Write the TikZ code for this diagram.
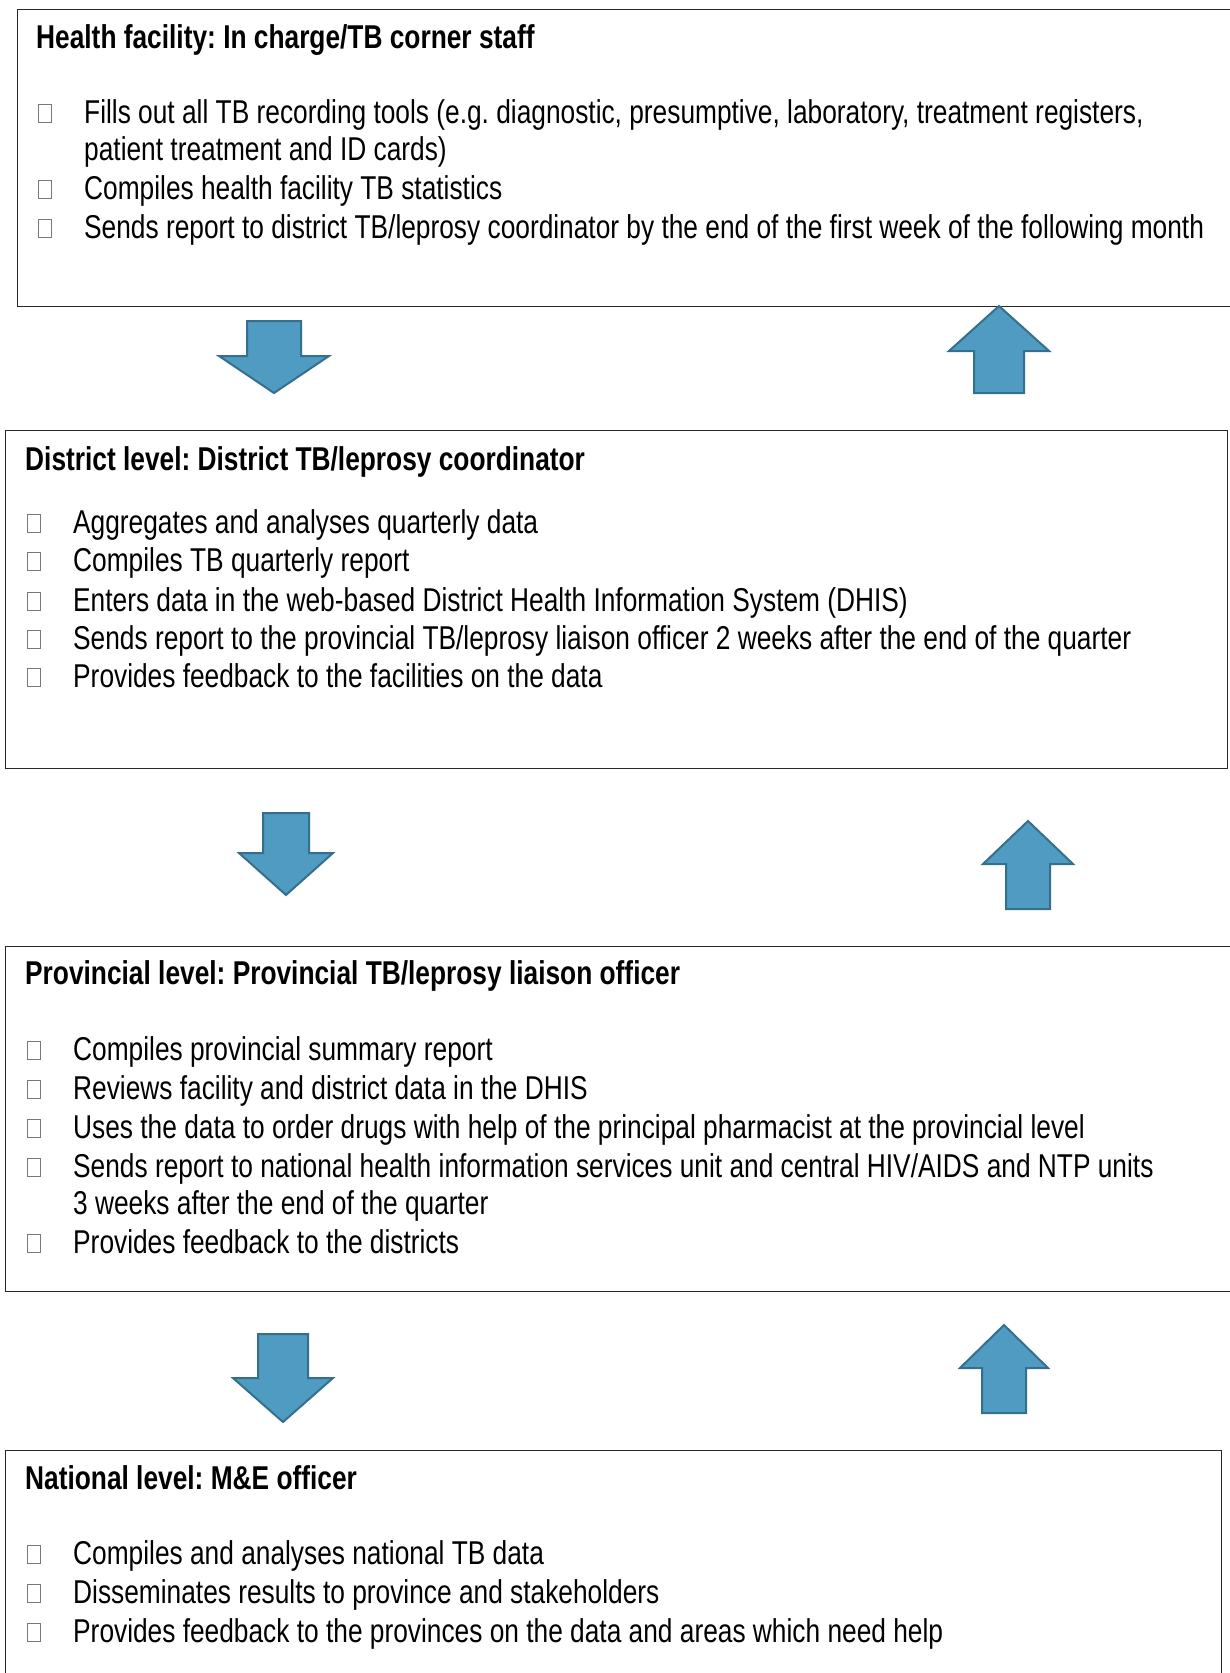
\documentclass[tikz,border=0pt]{standalone}
\usepackage{fontspec}
\setmainfont{Liberation Sans}[FakeStretch=0.797]
\usepackage{xcolor}
\definecolor{FlowBlue}{RGB}{79,155,193}
\definecolor{FlowEdge}{RGB}{52,112,142}
\definecolor{TickGrey}{RGB}{120,120,120}
\definecolor{FrameBlack}{RGB}{40,40,40}
\tikzset{%
  level_box/.style={%
    rectangle,%
    draw=FrameBlack,%
    line width=1.4pt,%
    inner sep=0pt,%
    anchor=north west,%
  },
  level_title/.style={%
    anchor=base west,%
    inner sep=0pt,%
    font={\fontsize{33}{38}\selectfont\bfseries\frenchspacing},%
  },
  task/.style={%
    anchor=base west,%
    inner sep=0pt,%
    font={\fontsize{33}{38}\selectfont\frenchspacing},%
  },
  tick_box/.style={%
    rectangle,%
    draw=TickGrey,%
    line width=0.9pt,%
    minimum width=13pt,%
    minimum height=18pt,%
    inner sep=0pt,%
    anchor=south west,%
  },
  flow_arrow/.style={%
    fill=FlowBlue,%
    draw=FlowEdge,%
    line width=2pt,%
    line join=miter,%
  },
}

\begin{document}
\begin{tikzpicture}[x=1pt, y=-1pt]
    \useasboundingbox (0,0) rectangle (1230,1673);

    % health facility
    \node [level_box, minimum width=1223pt, minimum height=297pt] (facility) at (17,9) {};
    \node [level_title] (facility_title) at (36,48) {Health facility: In charge/TB corner staff};
    \foreach \y/\txt [count=\i] in {%
      123/{Fills out all TB recording tools (e.g. diagnostic, presumptive, laboratory, treatment registers,},
      199/{Compiles health facility TB statistics},
      238/{Sends report to district TB/leprosy coordinator by the end of the first week of the following month}}
    {
      \node [tick_box] (facility_tick\i) at (38,\y) {};
      \node [task] (facility_item\i) at (84,\y) {\txt};
    }
    \node [task] (facility_item1b) at (84,160) {patient treatment and ID cards)};

    % district level
    \node [level_box, minimum width=1222pt, minimum height=338pt] (district) at (5,430) {};
    \node [level_title] (district_title) at (25,470) {District level: District TB/leprosy coordinator};
    \foreach \y/\txt [count=\i] in {%
      533/{Aggregates and analyses quarterly data},
      571/{Compiles TB quarterly report},
      611/{Enters data in the web-based District Health Information System (DHIS)},
      649/{Sends report to the provincial TB/leprosy liaison officer 2 weeks after the end of the quarter},
      687/{Provides feedback to the facilities on the data}}
    {
      \node [tick_box] (district_tick\i) at (27,\y) {};
      \node [task] (district_item\i) at (73,\y) {\txt};
    }

    % provincial level
    \node [level_box, minimum width=1235pt, minimum height=345pt] (province) at (5,946) {};
    \node [level_title] (province_title) at (25,984) {Provincial level: Provincial TB/leprosy liaison officer};
    \foreach \y/\txt [count=\i] in {%
      1060/{Compiles provincial summary report},
      1099/{Reviews facility and district data in the DHIS},
      1138/{Uses the data to order drugs with help of the principal pharmacist at the provincial level},
      1177/{Sends report to national health information services unit and central HIV/AIDS and NTP units},
      1253/{Provides feedback to the districts}}
    {
      \node [tick_box] (province_tick\i) at (27,\y) {};
      \node [task] (province_item\i) at (73,\y) {\txt};
    }
    \node [task] (province_item4b) at (73,1214) {3 weeks after the end of the quarter};

    % national level
    \node [level_box, minimum width=1216pt, minimum height=240pt] (national) at (5,1450) {};
    \node [level_title] (national_title) at (25,1489) {National level: M\&E officer};
    \foreach \y/\txt [count=\i] in {%
      1564/{Compiles and analyses national TB data},
      1603/{Disseminates results to province and stakeholders},
      1642/{Provides feedback to the provinces on the data and areas which need help}}
    {
      \node [tick_box] (national_tick\i) at (27,\y) {};
      \node [task] (national_item\i) at (73,\y) {\txt};
    }

    % reporting (down) and feedback (up) arrows: centre/shaft/head/tail/neck/tip
    \foreach \cx/\sw/\hw/\ta/\ne/\ti in {%
      274/27/55/321/356/393,
      286/23/47/813/853/895,
      283/25/50/1334/1378/1422,
      999/25/50/393/351/306,
      1028/22/45/909/864/821,
      1004/22/44/1413/1368/1325}
    {
      \draw [flow_arrow]
        ({\cx-\sw},\ta) -- ({\cx-\sw},\ne) -- ({\cx-\hw},\ne)
        -- (\cx,\ti)
        -- ({\cx+\hw},\ne) -- ({\cx+\sw},\ne) -- ({\cx+\sw},\ta) -- cycle;
    }
  \end{tikzpicture}
\end{document}
